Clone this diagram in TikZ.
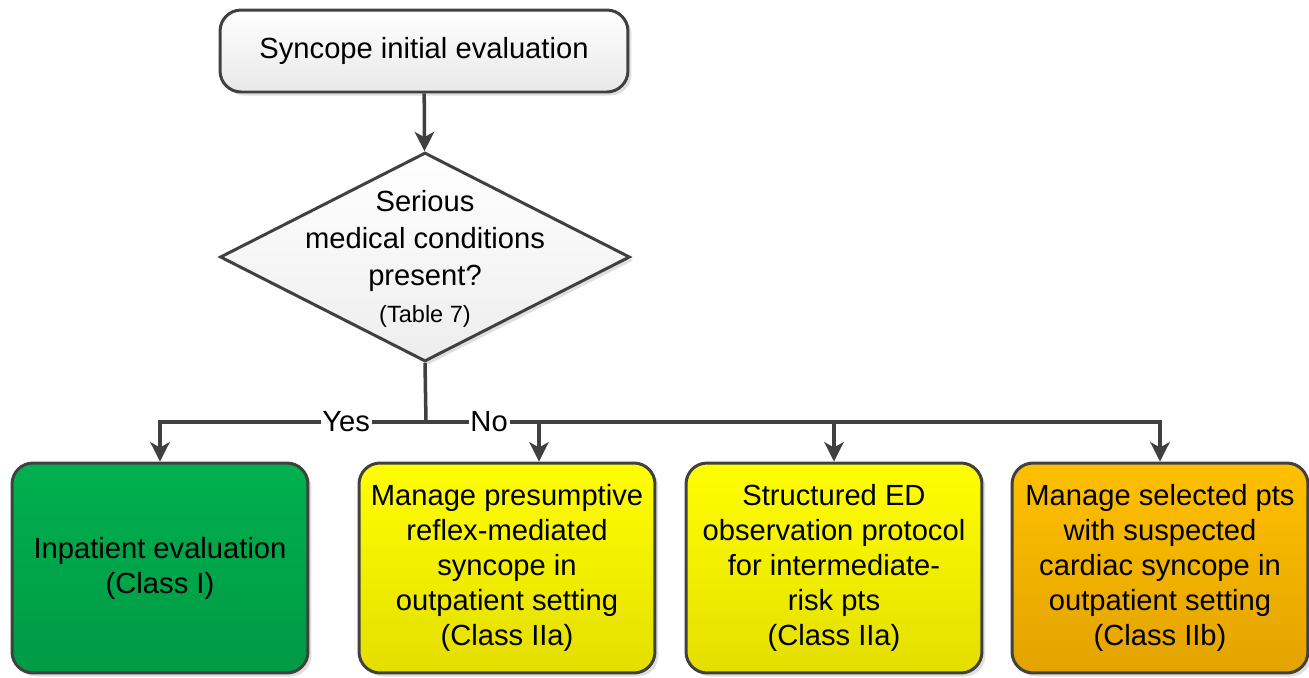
\documentclass[tikz,border=0pt]{standalone}
\usepackage{fontspec}
\setmainfont{Liberation Sans}
\usetikzlibrary{shapes.geometric,arrows.meta,shadows}
\definecolor{linegray}{HTML}{404040}
\definecolor{greentop}{HTML}{00B04F}
\definecolor{greenbot}{HTML}{009A44}
\definecolor{yellowtop}{HTML}{FFFF00}
\definecolor{yellowbot}{HTML}{E4DE00}
\definecolor{orangetop}{HTML}{FFC000}
\definecolor{orangebot}{HTML}{E3A300}

\begin{document}
\begin{tikzpicture}[x=0.02cm,y=-0.02cm,
    box/.style={draw=linegray,line width=1.7pt,rounded corners=12pt,align=center,
      font=\fontsize{16.6}{19.9}\selectfont,
      drop shadow={shadow xshift=2pt,shadow yshift=-2pt,opacity=0.25}},
    outbox/.style={box,minimum width=5.92cm,minimum height=4.2cm},
    flow/.style={draw=linegray,line width=2pt,-{Stealth[length=11pt,width=11pt,inset=3pt]}},
    lbl/.style={fill=white,inner sep=1pt,font=\fontsize{16.6}{19.9}\selectfont}]
    \useasboundingbox (0,0) rectangle (1309,677);
    % start and decision
    \node[box,top color=white,bottom color=gray!18,minimum width=8.16cm,minimum height=1.64cm] (start) at (424,51) {Syncope initial evaluation};
    \node[diamond,draw=linegray,line width=1.7pt,top color=white,bottom color=gray!14,
      minimum width=8.2cm,minimum height=4.18cm,
      drop shadow={shadow xshift=2pt,shadow yshift=-2pt,opacity=0.25}] (cond) at (425,257) {};
    \node[align=center,font=\fontsize{16.6}{21}\selectfont] (condtext) at (425,259)
      {Serious\\medical conditions\\present?\\{\fontsize{13.4}{16}\selectfont (Table 7)}};
    % outcomes
    \node[outbox,top color=greentop,bottom color=greenbot] (out1) at (160,568) {Inpatient evaluation\\(Class I)};
    \node[outbox,top color=yellowtop,bottom color=yellowbot] (out2) at (507,568) {Manage presumptive\\reflex-mediated\\syncope in\\outpatient setting\\(Class IIa)};
    \node[outbox,top color=yellowtop,bottom color=yellowbot] (out3) at (834,568) {Structured ED\\observation protocol\\for intermediate-\\risk pts\\(Class IIa)};
    \node[outbox,top color=orangetop,bottom color=orangebot] (out4) at (1160,568) {Manage selected pts\\with suspected\\cardiac syncope in\\outpatient setting\\(Class IIb)};
    % connectors
    \coordinate (split) at (426,422);
    \draw[flow] (start) -- (cond);
    \draw[draw=linegray,line width=2pt] (cond.south) -- (split);
    \draw[flow] (split) -| node[lbl,pos=0.15] (yes) {Yes} (out1.north);
    \draw[flow] (split) -| node[lbl,pos=0.043] (no) {No} (out4.north);
    \draw[flow] ([xshift=0.64cm]out2.north |- split) -- ([xshift=0.64cm]out2.north);
    \draw[flow] (out3.north |- split) -- (out3.north);
\end{tikzpicture}
\end{document}
